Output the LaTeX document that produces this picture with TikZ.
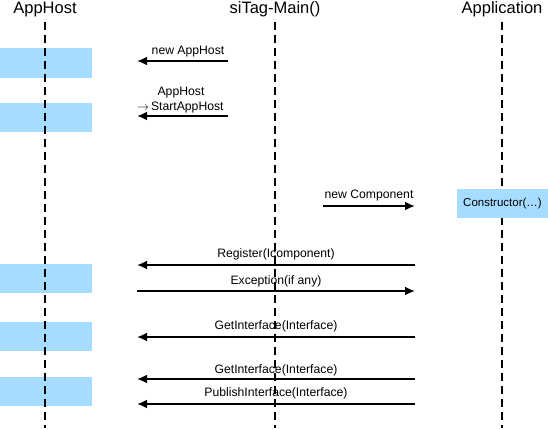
\documentclass[tikz,border=0pt]{standalone}
\usepackage{fontspec}
\setmainfont{Liberation Sans}
\usepackage{tikz}
\usetikzlibrary{arrows,arrows.meta}

\begin{document}
\begin{tikzpicture}[x=1pt,y=-1pt,line cap=rect]
					\definecolor{custcol_a6_dc_ff}{RGB}{166, 220, 255}
					\definecolor{custcol_0_0_0}{RGB}{0, 0, 0}
					\tikzset{lifeline/.style={line width=1.3pt, custcol_0_0_0, line cap=butt, dash pattern=on 8pt off 5pt}}
					\tikzset{msg/.style={line width=1.9pt, custcol_0_0_0, line cap=butt, -{Latex[length=10pt,width=9pt]}}}
					\tikzset{msglabel/.style={inner sep=0, outer sep=0, custcol_0_0_0, font=\fontsize{12.2pt}{14pt}\selectfont, anchor=base}}
					\tikzset{title/.style={inner sep=0, outer sep=0, custcol_0_0_0, font=\fontsize{16.5pt}{18pt}\selectfont, anchor=base}}
					\useasboundingbox (0,0) rectangle (548,428);
					% activation boxes
					\fill [custcol_a6_dc_ff]  (0.0,48.0) rectangle (92.0,78.0) ;
					\fill [custcol_a6_dc_ff]  (0.0,103.0) rectangle (92.0,132.0) ;
					\fill [custcol_a6_dc_ff]  (0.0,264.0) rectangle (92.0,293.0) ;
					\fill [custcol_a6_dc_ff]  (0.0,322.0) rectangle (92.0,351.0) ;
					\fill [custcol_a6_dc_ff]  (0.0,377.0) rectangle (92.0,406.0) ;
					% lifelines
					\node[title] (apphost) at  (45.0,14.0)  {AppHost};
					\node[title] (sitagmain) at  (275.0,14.0)  {siTag-Main()};
					\node[title] (application) at  (502.0,14.0)  {Application};
					\draw [lifeline]  (45.0,22.0) -- (45.0,428.0) ;
					\draw [lifeline]  (275.0,22.0) -- (275.0,428.0) ;
					\draw [lifeline]  (502.0,22.0) -- (502.0,428.0) ;
					% constructor box
					\node[fill=custcol_a6_dc_ff, minimum width=91pt, minimum height=29pt, inner sep=0, font=\fontsize{11.5pt}{14pt}\selectfont] (ctor) at  (502.5,203.5)  {Constructor(…)};
					% messages
					\coordinate (newhost_a) at (228.0,61.0);
					\coordinate (newhost_b) at (137.0,61.0);
					\draw [msg]  (newhost_a) -- (newhost_b) ;
					\node[msglabel] (l_newhost) at  (188.0,54.0)  {new AppHost};
					\coordinate (start_a) at (228.0,116.0);
					\coordinate (start_b) at (137.0,116.0);
					\draw [msg]  (start_a) -- (start_b) ;
					\node[msglabel] (l_start1) at  (181.0,95.0)  {AppHost};
					\node[msglabel, anchor=base west] (l_start2) at  (137.0,110.0)  {$\rightarrow$\,StartAppHost};
					\coordinate (comp_a) at (323.0,206.0);
					\coordinate (comp_b) at (415.0,206.0);
					\draw [msg]  (comp_a) -- (comp_b) ;
					\node[msglabel] (l_comp) at  (369.0,198.0)  {new Component};
					\coordinate (reg_a) at (415.0,265.0);
					\coordinate (reg_b) at (137.0,265.0);
					\draw [msg]  (reg_a) -- (reg_b) ;
					\node[msglabel] (l_reg) at  (276.0,257.0)  {Register(Icomponent)};
					\coordinate (exc_a) at (137.0,291.0);
					\coordinate (exc_b) at (415.0,291.0);
					\draw [msg]  (exc_a) -- (exc_b) ;
					\node[msglabel] (l_exc) at  (276.0,284.0)  {Exception(if any)};
					\coordinate (get1_a) at (415.0,337.0);
					\coordinate (get1_b) at (137.0,337.0);
					\draw [msg]  (get1_a) -- (get1_b) ;
					\node[msglabel] (l_get1) at  (276.0,329.0)  {GetInterface(Interface)};
					\coordinate (get2_a) at (415.0,379.0);
					\coordinate (get2_b) at (137.0,379.0);
					\draw [msg]  (get2_a) -- (get2_b) ;
					\node[msglabel] (l_get2) at  (276.0,373.0)  {GetInterface(Interface)};
					\coordinate (pub_a) at (415.0,404.0);
					\coordinate (pub_b) at (137.0,404.0);
					\draw [msg]  (pub_a) -- (pub_b) ;
					\node[msglabel] (l_pub) at  (276.0,396.0)  {PublishInterface(Interface)};
				\end{tikzpicture}
\end{document}
